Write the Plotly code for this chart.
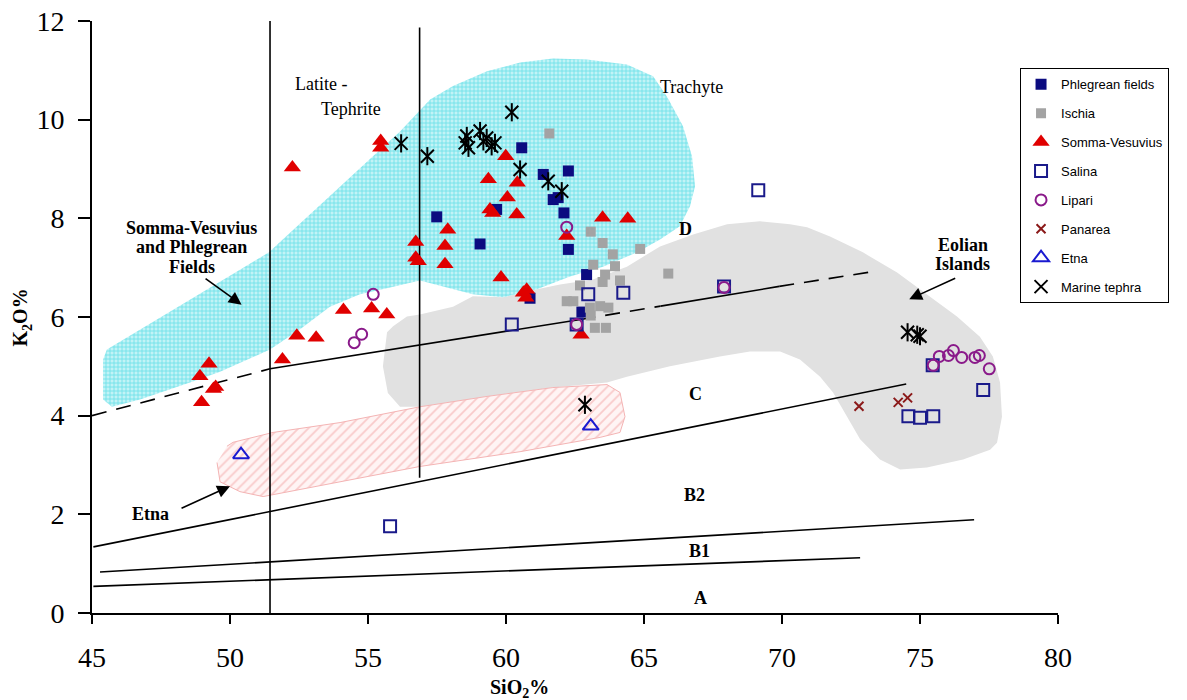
import plotly.graph_objects as go

# ---------------- data ----------------
phlegrean_x = [60.57, 61.35, 62.26, 61.71, 61.89, 62.10, 59.66, 57.49, 59.06, 62.26, 62.92, 60.87, 62.75]
phlegrean_y = [9.43, 8.89, 8.96, 8.38, 8.42, 8.11, 8.18, 8.03, 7.48, 7.37, 6.86, 6.38, 6.10]

ischia_x = [61.57, 63.07, 63.50, 63.87, 64.86, 63.16, 63.95, 63.59, 63.50, 64.13, 65.88, 62.68,
            62.20, 62.44, 63.04, 63.41, 63.71, 63.07, 63.22, 63.62]
ischia_y = [9.72, 7.73, 7.50, 7.27, 7.38, 7.06, 7.03, 6.86, 6.71, 6.74, 6.88, 6.64,
            6.32, 6.32, 6.19, 6.22, 6.19, 6.03, 5.78, 5.78]

somma_x = [48.91, 49.24, 49.48, 49.40, 48.97, 51.90, 52.42, 53.12, 54.11, 55.13, 55.68, 52.26,
           55.46, 55.46, 56.73, 56.73, 56.82, 59.99, 59.36, 60.41, 60.05, 59.42, 59.52, 60.39,
           63.50, 64.41, 57.89, 57.79, 57.79, 59.82, 60.63, 60.72, 60.75, 62.20, 62.72]
somma_y = [4.80, 5.05, 4.58, 4.54, 4.27, 5.14, 5.62, 5.58, 6.14, 6.17, 6.05, 9.03,
           9.57, 9.43, 7.52, 7.20, 7.13, 9.26, 8.79, 8.72, 8.42, 8.18, 8.11, 8.08,
           8.01, 7.99, 7.77, 7.44, 7.07, 6.80, 6.49, 6.39, 6.55, 7.64, 5.64]

salina_x = [69.14, 62.98, 64.25, 67.90, 60.21, 62.56, 55.80, 75.46, 77.29, 74.58, 75.00, 75.48]
salina_y = [8.57, 6.46, 6.49, 6.62, 5.85, 5.85, 1.76, 5.02, 4.52, 3.99, 3.96, 3.99]

lipari_x = [55.19, 54.50, 54.77, 62.20, 62.56, 67.90, 75.48, 75.70, 76.03, 76.21, 76.51, 76.99, 77.15, 77.51]
lipari_y = [6.46, 5.48, 5.65, 7.82, 5.85, 6.60, 5.02, 5.20, 5.22, 5.32, 5.18, 5.18, 5.22, 4.95]

panarea_x = [72.79, 74.21, 74.55]
panarea_y = [4.19, 4.27, 4.36]

etna_x = [50.40, 63.07]
etna_y = [3.21, 3.79]

tephra_x = [60.21, 56.20, 57.15, 58.58, 59.06, 58.64, 59.30, 59.60, 58.52, 59.18, 59.48,
            60.51, 61.53, 62.02, 62.86, 74.55, 74.90, 75.00]
tephra_y = [10.15, 9.52, 9.26, 9.67, 9.77, 9.43, 9.63, 9.53, 9.53, 9.56, 9.46,
            8.99, 8.75, 8.55, 4.22, 5.69, 5.64, 5.61]

# field outlines (data units)
cyan_x = [45.72, 46.74, 48.55, 49.64, 51.45, 52.54, 53.62, 54.71, 55.80, 56.88, 58.80, 59.89, 61.12,
          62.32, 63.51, 64.75, 65.58, 66.30, 66.67, 66.85, 66.74, 66.41, 65.83, 65.33, 64.38, 62.93,
          61.70, 60.51, 59.31, 58.08, 57.25, 56.16, 55.18, 53.99, 52.79, 51.41, 50.36, 49.17, 47.93,
          46.74, 45.54, 45.40, 45.40]
cyan_y = [4.18, 4.33, 4.67, 4.89, 5.34, 5.75, 6.21, 6.46, 6.60, 6.74, 6.46, 6.40, 6.56,
          6.82, 7.02, 7.31, 7.57, 7.84, 8.25, 8.65, 9.26, 9.87, 10.47, 10.88, 11.12, 11.22,
          11.24, 11.16, 10.98, 10.68, 10.41, 9.76, 9.26, 8.65, 8.02, 7.31, 6.96, 6.56, 6.15,
          5.75, 5.34, 5.14, 4.33]

gray_x = [55.91, 56.41, 56.88, 58.08, 58.80, 59.89, 61.12, 61.96, 63.15, 64.38, 65.58, 66.78, 68.01,
          69.20, 70.29, 70.91, 71.74, 72.93, 74.17, 75.36, 76.34, 77.17, 77.64, 77.90, 77.97, 77.79,
          77.54, 76.56, 75.25, 74.28, 73.55, 72.83, 72.36, 71.85, 71.38, 70.65, 69.93, 68.84, 67.75,
          65.94, 64.38, 63.66, 61.70, 59.31, 56.88, 56.16, 55.72, 55.54, 55.69]
gray_y = [5.81, 6.01, 6.05, 6.21, 6.42, 6.40, 6.56, 6.66, 6.76, 7.02, 7.43, 7.67, 7.88,
          7.94, 7.88, 7.82, 7.63, 7.31, 6.90, 6.42, 6.01, 5.60, 5.20, 4.67, 3.98, 3.45,
          3.31, 3.11, 2.95, 2.91, 3.11, 3.52, 3.98, 4.47, 4.79, 5.14, 5.30, 5.30, 5.20,
          5.00, 4.79, 4.67, 4.57, 4.39, 4.18, 4.18, 4.46, 5.00, 5.69]

pink_x = [49.89, 50.11, 51.56, 53.99, 56.88, 59.31, 61.70, 63.66, 64.13, 64.31, 64.13, 63.41,
          60.51, 56.88, 51.20, 50.36, 49.64, 49.53]
pink_y = [3.38, 3.46, 3.66, 3.86, 4.18, 4.39, 4.57, 4.63, 4.47, 3.98, 3.66, 3.56,
          3.27, 2.97, 2.36, 2.46, 2.66, 3.05]

# classification boundary lines (data units)
hk_dash_x = [[45.0, 51.45], [62.7, 65.6], [69.9, 73.4]]
hk_dash_y = [[4.0, 4.95], [5.95, 6.22], [6.62, 6.93]]
hk_solid_x = [[51.45, 62.7], [65.6, 69.9]]
hk_solid_y = [[4.95, 5.95], [6.22, 6.62]]
cb2_x, cb2_y = [45.05, 74.5], [1.34, 4.64]
b1b2_x, b1b2_y = [45.29, 76.96], [0.83, 1.89]
ab1_x, ab1_y = [45.05, 72.83], [0.54, 1.12]
vline1_x, vline1_y = [51.45, 51.45], [0.0, 12.07]
vline2_x, vline2_y = [56.87, 56.87], [2.74, 11.87]

x_ticks = [45, 50, 55, 60, 65, 70, 75, 80]
y_ticks = [0, 2, 4, 6, 8, 10, 12]

# ---------------- figure ----------------
fig = go.Figure()
SERIF = "Liberation Serif, Times New Roman, serif"
SANS = "Liberation Sans, Arial, sans-serif"

fig.add_trace(go.Scatter(x=gray_x, y=gray_y, mode="lines", fill="toself",
                         fillcolor="#e1e1e1", line=dict(width=0, color="#e1e1e1"),
                         showlegend=False, hoverinfo="skip"))
fig.add_trace(go.Scatter(x=cyan_x, y=cyan_y, mode="lines", fill="toself",
                         line=dict(width=0, color="#5fe0e8"),
                         fillpattern=dict(shape="+", fgcolor="#1fd0dc", bgcolor="#c2f3f6",
                                          size=4, solidity=0.4),
                         showlegend=False, hoverinfo="skip"))
fig.add_trace(go.Scatter(x=pink_x, y=pink_y, mode="lines", fill="toself",
                         line=dict(width=1, color="#f4b4b4"),
                         fillpattern=dict(shape="/", fgcolor="#f2a0a0", bgcolor="#fff4f4",
                                          size=7, solidity=0.25),
                         showlegend=False, hoverinfo="skip"))

def add_line(xs, ys, dash="solid", width=1.6):
    fig.add_trace(go.Scatter(x=xs, y=ys, mode="lines", line=dict(color="black", width=width, dash=dash),
                             showlegend=False, hoverinfo="skip", cliponaxis=False))

for xs, ys in zip(hk_dash_x, hk_dash_y):
    add_line(xs, ys, dash="15px,10px")
for xs, ys in zip(hk_solid_x, hk_solid_y):
    add_line(xs, ys)
add_line(cb2_x, cb2_y)
add_line(b1b2_x, b1b2_y)
add_line(ab1_x, ab1_y)
add_line(vline1_x, vline1_y)
add_line(vline2_x, vline2_y)

def add_series(name, xs, ys, marker, group):
    fig.add_trace(go.Scatter(x=xs, y=ys, mode="markers", name=name, marker=marker,
                             legendgroup=group))

add_series("Phlegrean fields", phlegrean_x, phlegrean_y,
           dict(symbol="square", size=11, color="#0b0b80", line=dict(width=0)), "g1")
add_series("Ischia", ischia_x, ischia_y,
           dict(symbol="square", size=10, color="#a3a3a3", line=dict(width=0)), "g2")
add_series("Somma-Vesuvius", somma_x, somma_y,
           dict(symbol="triangle-up", size=15, color="#e00000", line=dict(width=0)), "g3")
add_series("Salina", salina_x, salina_y,
           dict(symbol="square-open", size=12, color="#1a1a8a", line=dict(width=2)), "g4")
add_series("Lipari", lipari_x, lipari_y,
           dict(symbol="circle-open", size=11, color="#8a1a8a", line=dict(width=2)), "g5")
add_series("Panarea", panarea_x, panarea_y,
           dict(symbol="x-thin", size=9, color="#8b1a1a", line=dict(width=2, color="#8b1a1a")), "g6")
add_series("Etna", etna_x, etna_y,
           dict(symbol="triangle-up-open", size=14, color="#1a1ad0", line=dict(width=2)), "g7")
add_series("Marine tephra", tephra_x, tephra_y,
           dict(symbol="x-thin", size=13, color="black", line=dict(width=2, color="black")), "g8")
fig.add_trace(go.Scatter(x=tephra_x, y=tephra_y, mode="markers", showlegend=False, legendgroup="g8",
                         marker=dict(symbol="line-ns", size=13, color="black",
                                     line=dict(width=2, color="black")),
                         hoverinfo="skip"))

# ---------------- text ----------------
ann = []
def txt(x, y, s, size=18, bold=False):
    ann.append(dict(x=x, y=y, xref="x", yref="y", text=(f"<b>{s}</b>" if bold else s),
                    showarrow=False, font=dict(family=SERIF, size=size, color="black")))

txt(53.3, 10.72, "Latite -")
txt(54.37, 10.22, "Tephrite")
txt(66.73, 10.66, "Trachyte")
txt(48.61, 7.80, "Somma-Vesuvius", 18, True)
txt(48.61, 7.41, "and Phlegrean", 18, True)
txt(48.61, 7.02, "Fields", 18, True)
txt(47.13, 2.01, "Etna", 18, True)
txt(76.55, 7.45, "Eolian", 18, True)
txt(76.55, 7.07, "Islands", 18, True)
txt(66.52, 7.78, "D", 18, True)
txt(66.85, 4.43, "C", 18, True)
txt(66.83, 2.40, "B2", 18, True)
txt(67.0, 1.25, "B1", 18, True)
txt(67.05, 0.30, "A", 18, True)

def arrow(x0, y0, x1, y1):
    ann.append(dict(x=x1, y=y1, ax=x0, ay=y0, xref="x", yref="y", axref="x", ayref="y",
                    text="", showarrow=True, arrowhead=2, arrowsize=1.6, arrowwidth=1.6,
                    arrowcolor="black"))

arrow(49.06, 6.80, 50.42, 6.25)
arrow(48.19, 2.11, 50.0, 2.57)
arrow(76.33, 6.80, 74.61, 6.36)

ann.append(dict(x=-0.073, y=0.50, xref="paper", yref="paper", text="<b>K<sub>2</sub>O%</b>",
                xanchor="center", yanchor="middle",
                textangle=-90, showarrow=False, font=dict(family=SERIF, size=20, color="black")))
ann.append(dict(x=0.443, y=-0.127, xref="paper", yref="paper", text="<b>SiO<sub>2</sub>%</b>",
                xanchor="center", yanchor="middle",
                showarrow=False, font=dict(family=SERIF, size=20, color="black")))

# the page adds an 8px body margin, so the figure is drawn 8px smaller and shifted
fig.update_layout(
    width=1179, height=692,
    margin=dict(l=84, r=129, t=13, b=87, autoexpand=False),
    paper_bgcolor="white", plot_bgcolor="white",
    annotations=ann,
    showlegend=True,
    legend=dict(x=0.9607, y=0.92, xanchor="left", yanchor="top",
                bordercolor="black", borderwidth=1, bgcolor="white",
                font=dict(family=SANS, size=13, color="black"),
                tracegroupgap=9),
    xaxis=dict(range=[45, 80], tickvals=x_ticks, ticktext=[str(v) for v in x_ticks],
               showline=True, linecolor="black", linewidth=1.6, ticks="outside", ticklen=9,
               tickwidth=1.6, tickcolor="black", showgrid=False, zeroline=False, automargin=False,
               ticklabeloverflow="allow",
               tickfont=dict(family=SERIF, size=28, color="black"), ticklabelstandoff=10),
    yaxis=dict(range=[0, 12], tickvals=y_ticks, ticktext=[str(v) for v in y_ticks],
               showline=True, linecolor="black", linewidth=1.6, ticks="outside", ticklen=12,
               tickwidth=1.6, tickcolor="black", showgrid=False, zeroline=False, automargin=False,
               ticklabeloverflow="allow",
               tickfont=dict(family=SERIF, size=28, color="black"), ticklabelstandoff=8),
)

fig.write_html("out.html")
